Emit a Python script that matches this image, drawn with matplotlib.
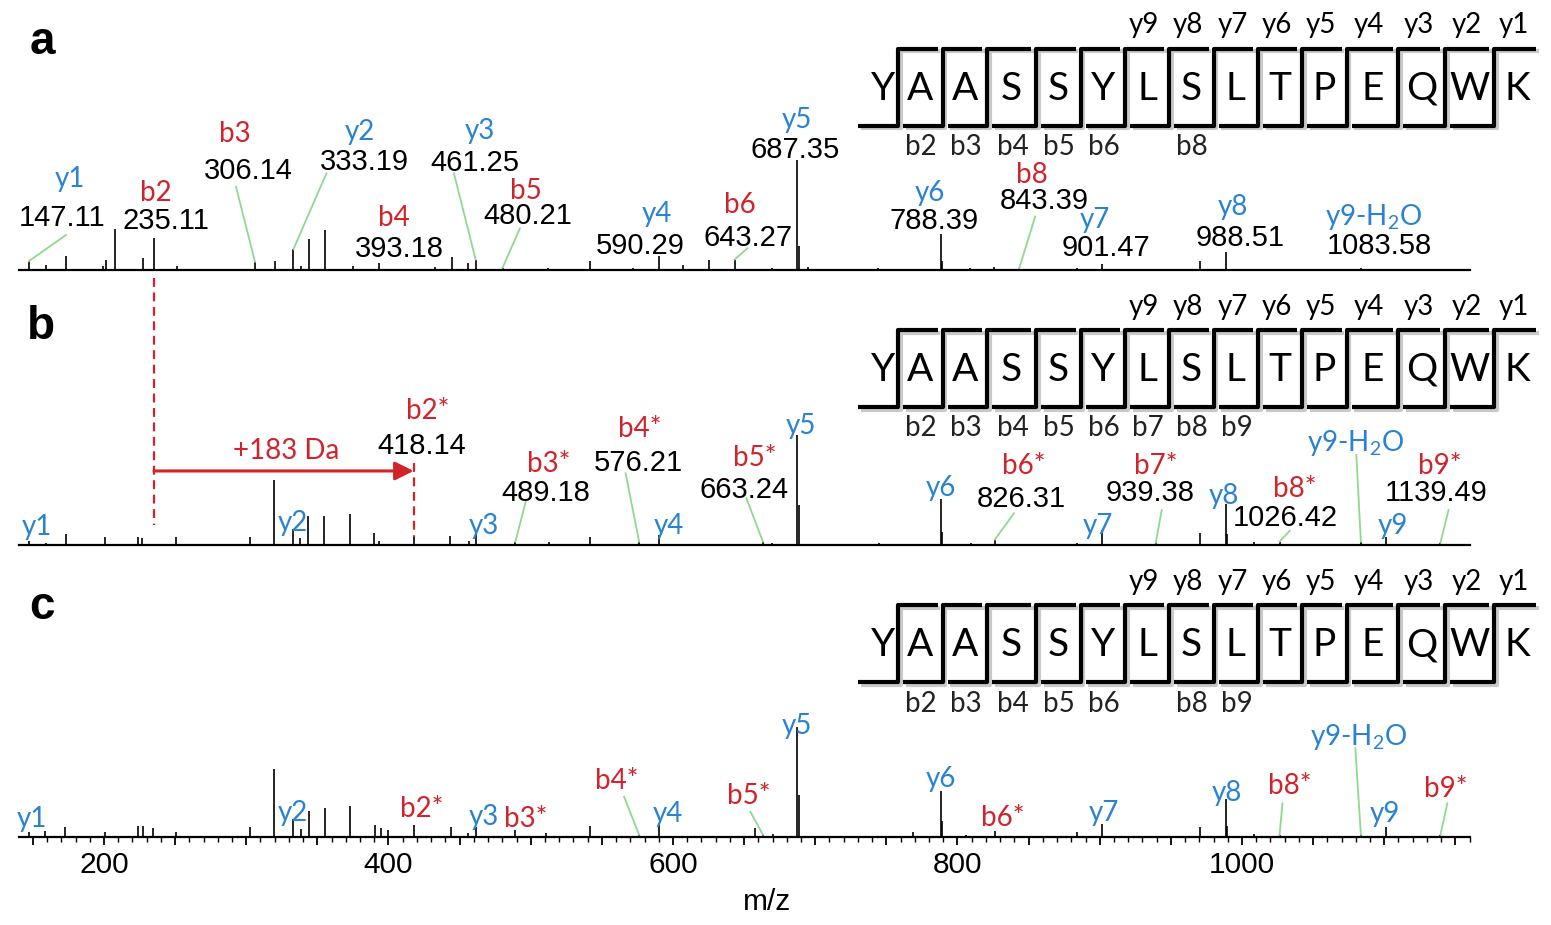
import matplotlib
matplotlib.use("Agg")
import matplotlib.pyplot as plt
import matplotlib.patheffects as pe
from matplotlib.ticker import MultipleLocator, FuncFormatter

W, H = 1551, 925
BLUE = '#2a82d2'
RED = '#d2222a'
GREEN = '#8fd98f'

plt.rcParams['mathtext.fontset'] = 'custom'
plt.rcParams['mathtext.rm'] = 'Lato'

# ---------------- spectra: m/z and relative intensity (% of y5) ----------------
a_mz = [147.11, 159.0, 173.3, 199.5, 201.4, 207.7, 227.6, 235.11, 251.0, 306.14, 320.2, 333.19,
        338.5, 344.3, 355.4, 375.3, 393.18, 432.7, 444.4, 456.0, 461.25, 480.21, 512.4, 541.6,
        572.0, 590.29, 607.3, 625.6, 643.27, 669.8, 687.35, 688.35, 695.0, 744.3, 788.39, 789.4,
        808.8, 825.6, 843.39, 883.8, 901.47, 970.5, 988.51, 1083.58]
a_int = [8, 5, 12.5, 4, 9, 37, 11, 29, 4, 7.5, 8.5, 19,
         4, 28.5, 36, 4, 6, 3, 12, 6, 9.5, 2, 2, 8,
         2, 12.5, 4.5, 9, 9.5, 2, 100, 22, 3, 2, 33, 8,
         2, 3, 1.5, 1.5, 5.5, 8, 16, 2]

b_mz = [147.11, 159.0, 173.0, 201.0, 224.0, 227.0, 250.5, 302.6, 319.2, 333.19, 338.0, 343.5,
        355.0, 372.6, 390.0, 393.6, 418.14, 443.0, 456.4, 461.25, 489.18, 513.0, 541.4, 576.21,
        590.29, 663.24, 669.6, 687.35, 688.35, 745.0, 788.39, 789.4, 809.8, 826.31, 884.0, 901.47,
        939.38, 970.5, 988.51, 989.5, 1008.5, 1026.42, 1083.58, 1101.59, 1139.49]
b_int = [4, 2, 10, 7.5, 7, 6, 7, 7.5, 59, 15, 6, 26,
         26, 28, 11, 4, 8, 8, 4, 11, 3, 3, 7.5, 3,
         9, 3, 2, 100, 36, 2, 42, 12, 2, 5, 2, 14,
         2, 11, 37, 10, 3, 3, 3, 7, 2]

c_mz = [147.11, 158.5, 172.8, 201.0, 223.7, 227.3, 234.5, 250.6, 302.6, 319.5, 333.19, 338.5,
        343.9, 355.4, 372.9, 390.5, 395.0, 399.5, 418.14, 443.6, 456.0, 461.25, 489.18, 510.7,
        541.9, 576.21, 590.29, 657.6, 663.24, 670.0, 687.35, 688.35, 769.0, 788.39, 789.4, 806.0,
        826.31, 884.0, 901.47, 970.5, 988.51, 989.5, 1008.5, 1026.42, 1083.58, 1101.59, 1139.49]
c_int = [4.5, 5.5, 9, 5, 10, 10, 8, 5, 9, 62, 16, 7,
         24, 26, 28, 11, 8, 6, 11, 9, 4, 9, 6, 4,
         10, 2, 12.5, 8, 2, 3, 100, 38, 4.5, 42, 15, 2,
         5.5, 5, 12, 9, 35, 10, 3, 2, 2, 9.5, 2]

# ---------------- assigned ions ----------------
a_ions = ['y1', 'b2', 'b3', 'y2', 'b4', 'y3', 'b5', 'y4', 'b6', 'y5', 'y6', 'b8', 'y7', 'y8', 'y9-H2O']
a_ion_mz = [147.11, 235.11, 306.14, 333.19, 393.18, 461.25, 480.21, 590.29, 643.27, 687.35,
            788.39, 843.39, 901.47, 988.51, 1083.58]
a_lab_x = [176.1, 236.3, 292.1, 379.8, 403.9, 464.0, 496.3, 588.8, 647.1, 687.2, 780.8, 852.5, 896.9, 993.5, 1092.5]
a_lab_y = [84.8, 72.0, 125.7, 127.3, 50.0, 128.8, 74.3, 53.0, 61.2, 138.2, 72.7, 88.2, 47.3, 59.1, 51.8]
a_num_x = [170.5, 243.6, 301.7, 383.3, 407.9, 460.8, 498.1, 576.8, 652.7, 685.8, 783.3, 861.2, 904.5, 999.0, 1096.3]
a_num_y = [50.0, 47.5, 92.5, 100.6, 21.8, 100.0, 51.5, 24.3, 31.8, 111.8, 47.3, 65.5, 22.7, 31.8, 24.5]
a_lead = {'y1': (173.3, 31.8), 'b3': (292.8, 75.7), 'y2': (356.4, 87.9), 'y3': (446.0, 87.9),
          'b5': (492.4, 37.9), 'b6': (652.3, 19.7), 'b8': (854.6, 48.5)}

b_ions = ['y1', 'b2*', 'y2', 'y3', 'b3*', 'b4*', 'y4', 'b5*', 'y5', 'y6', 'b6*', 'y7', 'b7*', 'y8',
          'b8*', 'y9-H2O', 'y9', 'b9*']
b_ion_mz = [147.11, 418.14, 333.19, 461.25, 489.18, 576.21, 590.29, 663.24, 687.35, 788.39,
            826.31, 901.47, 939.38, 988.51, 1026.42, 1083.58, 1101.59, 1139.49]
b_lab_x = [152.9, 427.8, 332.9, 466.7, 512.6, 576.3, 596.8, 657.3, 689.8, 788.5, 846.3, 898.9,
           939.5, 987.2, 1037.1, 1079.7, 1106.4, 1139.2]
b_lab_y = [18.2, 124.3, 22.1, 19.7, 75.7, 107.5, 19.7, 81.8, 110.6, 54.5, 74.3, 19.7, 74.3, 47.0,
           53.0, 95.5, 19.7, 74.3]
b_num_x = [None, 423.1, None, None, 510.4, 575.3, None, 649.8, None, None, 844.9, None, 935.3,
           None, 1030.5, None, None, 1136.5]
b_num_y = [None, 92.5, None, None, 50.0, 77.3, None, 53.0, None, None, 44.5, None, 50.0,
           None, 27.3, None, None, 50.0]
b_lead = {'b3*': (496.5, 39.4), 'b4*': (566.7, 65.2), 'b5*': (651.6, 42.5), 'b6*': (839.7, 28.8),
          'b7*': (943.6, 31.8), 'b8*': (1033.6, 13.0), 'y9-H2O': (1080.4, 81.8), 'b9*': (1145.2, 31.8)}

c_ions = ['y1', 'y2', 'b2*', 'y3', 'b3*', 'b4*', 'y4', 'b5*', 'y5', 'y6', 'b6*', 'y7', 'y8', 'b8*',
          'y9-H2O', 'y9', 'b9*']
c_ion_mz = [147.11, 333.19, 418.14, 461.25, 489.18, 576.21, 590.29, 663.24, 687.35, 788.39,
            826.31, 901.47, 988.51, 1026.42, 1083.58, 1101.59, 1139.49]
c_lab_x = [149.6, 332.9, 423.4, 466.7, 496.1, 560.2, 596.4, 653.4, 687.3, 788.5, 831.8, 903.1,
           989.7, 1033.6, 1082.1, 1100.5, 1143.4]
c_lab_y = [18.5, 24.5, 27.5, 20.0, 18.5, 53.4, 23.0, 39.7, 103.4, 54.8, 20.0, 24.5, 42.7, 48.2,
           94.3, 23.0, 45.7]
c_lead = {'b4*': (565.6, 36.6), 'b5*': (654.4, 23.0), 'b8*': (1028.5, 30.6),
          'y9-H2O': (1079.7, 80.6), 'b9*': (1144.4, 30.6)}

# modification shift shown in panel b
b2_mz = 235.11
b2_mod_mz = 418.14
shift_label = '+183 Da'

# peptide sequence and observed b ions per panel
sequence = 'YAASSYLSLTPEQWK'
a_bseen = [2, 3, 4, 5, 6, 8]
b_bseen = [2, 3, 4, 5, 6, 7, 8, 9]
c_bseen = [2, 3, 4, 5, 6, 8, 9]

# ---------------- layout ----------------
fig = plt.figure(figsize=(W / 100, H / 100), dpi=100)
X0, X1 = 19, 1470
XLIM = (140.25, 1160.3)
PX_PER_UNIT = 1.1
AX_H = 250


def make_axis(base):
    ax = fig.add_axes([X0 / W, (H - base) / H, (X1 - X0) / W, AX_H / H])
    ax.set_xlim(*XLIM)
    ax.set_ylim(0, AX_H / PX_PER_UNIT)
    ax.set_facecolor('none')
    for s in ['top', 'left', 'right']:
        ax.spines[s].set_visible(False)
    ax.spines['bottom'].set_linewidth(1.6)
    ax.set_yticks([])
    return ax


def ion_label(s):
    return s.replace('H2O', r'H$\mathregular{_2}$O')


def draw_panel(ax, mz, inten, ions, ion_mz, lab_x, lab_y, num_x, num_y, lead):
    ax.vlines(mz, 0, inten, color='k', lw=1.2)
    for i, name in enumerate(ions):
        col = RED if name.startswith('b') else BLUE
        ax.text(lab_x[i], lab_y[i], ion_label(name), color=col, fontsize=20, family='Lato',
                ha='center', va='center_baseline', clip_on=False)
        if num_x is not None and num_x[i] is not None:
            ax.text(num_x[i], num_y[i], f'{ion_mz[i]:.2f}', color='k', fontsize=21,
                    family='Liberation Sans', ha='center', va='center_baseline', clip_on=False)
        if name in lead:
            near = [inten[j] for j, m in enumerate(mz) if abs(m - ion_mz[i]) < 1.5]
            top = near[0] if near else 0.5
            sx, sy = lead[name]
            ax.plot([sx, ion_mz[i]], [sy, top], color=GREEN, lw=1.3, clip_on=False)


ax_a = make_axis(270)
ax_b = make_axis(545)
ax_c = make_axis(837)

draw_panel(ax_a, a_mz, a_int, a_ions, a_ion_mz, a_lab_x, a_lab_y, a_num_x, a_num_y, a_lead)
draw_panel(ax_b, b_mz, b_int, b_ions, b_ion_mz, b_lab_x, b_lab_y, b_num_x, b_num_y, b_lead)
draw_panel(ax_c, c_mz, c_int, c_ions, c_ion_mz, c_lab_x, c_lab_y, None, None, c_lead)

for ax in (ax_a, ax_b):
    ax.set_xticks([])

# mass shift from b2 to modified b2*
ax_b.plot([b2_mz, b2_mz], [242.7, 18.2], color=RED, lw=1.6, dashes=(4, 2.5), clip_on=False)
ax_b.plot([b2_mod_mz, b2_mod_mz], [74.8, 7.5], color=RED, lw=1.6, dashes=(4, 2.5), clip_on=False)
ax_b.annotate('', xy=(b2_mod_mz - 0.5, 67.3), xytext=(b2_mz, 67.3),
              arrowprops=dict(arrowstyle='-|>', color=RED, lw=2.2, mutation_scale=28,
                              shrinkA=0, shrinkB=0))
ax_b.text(328.3, 87.9, shift_label, color=RED, fontsize=20, family='Lato',
          ha='center', va='center_baseline')

# x axis of bottom panel
ax_c.xaxis.set_major_locator(MultipleLocator(50))
ax_c.xaxis.set_minor_locator(MultipleLocator(10))
ax_c.xaxis.set_major_formatter(FuncFormatter(lambda v, p: f'{v:.0f}' if v % 200 == 0 else ''))
ax_c.tick_params(axis='x', which='major', length=6, width=1.3, pad=4, labelsize=21.5)
ax_c.tick_params(axis='x', which='minor', length=3.5, width=1.0)
for t in ax_c.get_xticklabels():
    t.set_family('Liberation Sans')
fig.text(766.7 / W, 1 - 901.7 / H, 'm/z', fontsize=21.5, family='Liberation Sans',
         ha='center', va='center')

# ---------------- overlay in pixel coordinates: panel letters and peptide maps ----------------
ov = fig.add_axes([0, 0, 1, 1], zorder=5)
ov.set_xlim(0, W)
ov.set_ylim(H, 0)
ov.axis('off')
ov.set_facecolor('none')

for lab, (lx, ly) in zip('abc', [(42, 37.3), (40.8, 321.7), (42, 602)]):
    ov.text(lx, ly, lab, fontsize=33, fontweight='bold', family='Liberation Sans',
            ha='center', va='center_baseline')

cut_x = [898, 942.6, 986.9, 1036.2, 1080.5, 1124.8, 1169.2, 1213.5, 1257.8, 1302.2,
         1346.5, 1398.2, 1445, 1494.3]
res_x = [883] + [(cut_x[i] + cut_x[i + 1]) / 2 for i in range(len(cut_x) - 1)] + [1517]
shadow = [pe.SimpleLineShadow(offset=(2, -2), shadow_color='#888888', alpha=0.45), pe.Normal()]


def peptide(y_top, bseen):
    y_bot = y_top + 77
    n = len(sequence)
    for k, cx in enumerate(cut_x):
        xl = 858 if k == 0 else cut_x[k - 1] + 5
        xr = cut_x[k + 1] - 5 if k < len(cut_x) - 1 else 1536
        ov.plot([xl, cx, cx, xr], [y_bot, y_bot, y_top, y_top], color='k', lw=3,
                solid_joinstyle='round', solid_capstyle='butt', path_effects=shadow)
    for i, aa in enumerate(sequence):
        ov.text(res_x[i], y_top + 51, aa, fontsize=28, family='Lato', ha='center', va='baseline')
    for j in range(1, 10):
        ov.text(res_x[n - j] - 3, y_top - 25.5, f'y{j}', fontsize=20, family='Lato',
                ha='center', va='center_baseline')
    for j in bseen:
        ov.text(res_x[j - 1] + 1, y_top + 96, f'b{j}', fontsize=20, family='Lato', color='#222222',
                ha='center', va='center_baseline')


peptide(48.5, a_bseen)
peptide(330, b_bseen)
peptide(605, c_bseen)

fig.savefig('out.png', dpi=100)
